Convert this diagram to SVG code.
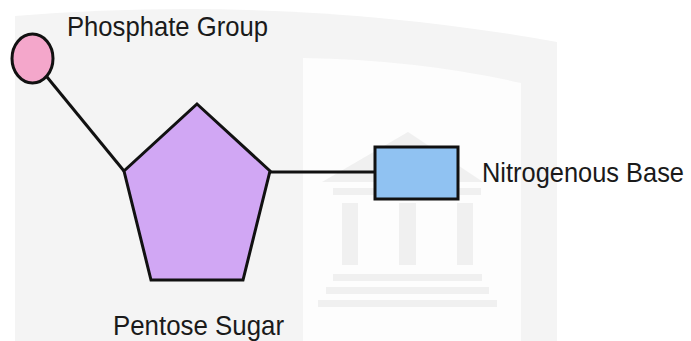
<svg xmlns="http://www.w3.org/2000/svg" width="691" height="341" viewBox="0 0 691 341">
  <style>
    .lbl { font-family: "Liberation Sans", Arial, Helvetica, sans-serif; font-size: 27.5px; fill: #1a1a1a; }
    .shape { stroke: #111111; stroke-width: 3; stroke-linejoin: miter; }
    .conn { stroke: #111111; stroke-width: 3; fill: none; }
    .wm { fill: #f0f0f0; }
  </style>
  <rect width="691" height="341" fill="#ffffff"/>
  <g id="watermark">
    <path d="M15,341 V16 Q290,-6 557,42 V341 Z" fill="#f4f4f4"/>
    <path d="M303,341 V58 Q420,60 521,83 V341 Z" fill="#fdfdfd"/>
    <polygon class="wm" points="322,182 408,132 483,182"/>
    <rect class="wm" x="333" y="188" width="148" height="7"/>
    <rect class="wm" x="342" y="203" width="16" height="62"/>
    <rect class="wm" x="399" y="203" width="17" height="62"/>
    <rect class="wm" x="457" y="203" width="16" height="62"/>
    <rect class="wm" x="333" y="274" width="149" height="7"/>
    <rect class="wm" x="326" y="287" width="163" height="7"/>
    <rect class="wm" x="318" y="300" width="179" height="7"/>
  </g>
  <g id="connectors">
    <line class="conn" x1="47" y1="77" x2="124" y2="171"/>
    <line class="conn" x1="270" y1="172" x2="374" y2="172"/>
  </g>
  <g id="phosphate">
    <ellipse class="shape" cx="32.5" cy="58.5" rx="20.5" ry="24.5" fill="#f4a7cb"/>
    <text class="lbl" x="67" y="36" textLength="201" lengthAdjust="spacingAndGlyphs">Phosphate Group</text>
  </g>
  <g id="sugar">
    <polygon class="shape" points="197,104 270,171 243,280 151,280 124,171" fill="#d1a7f4"/>
    <text class="lbl" x="113" y="335" textLength="171" lengthAdjust="spacingAndGlyphs">Pentose Sugar</text>
  </g>
  <g id="base">
    <rect class="shape" x="375" y="147" width="83" height="52" fill="#90c2f2"/>
    <text class="lbl" x="482" y="182" textLength="202" lengthAdjust="spacingAndGlyphs">Nitrogenous Base</text>
  </g>
</svg>
